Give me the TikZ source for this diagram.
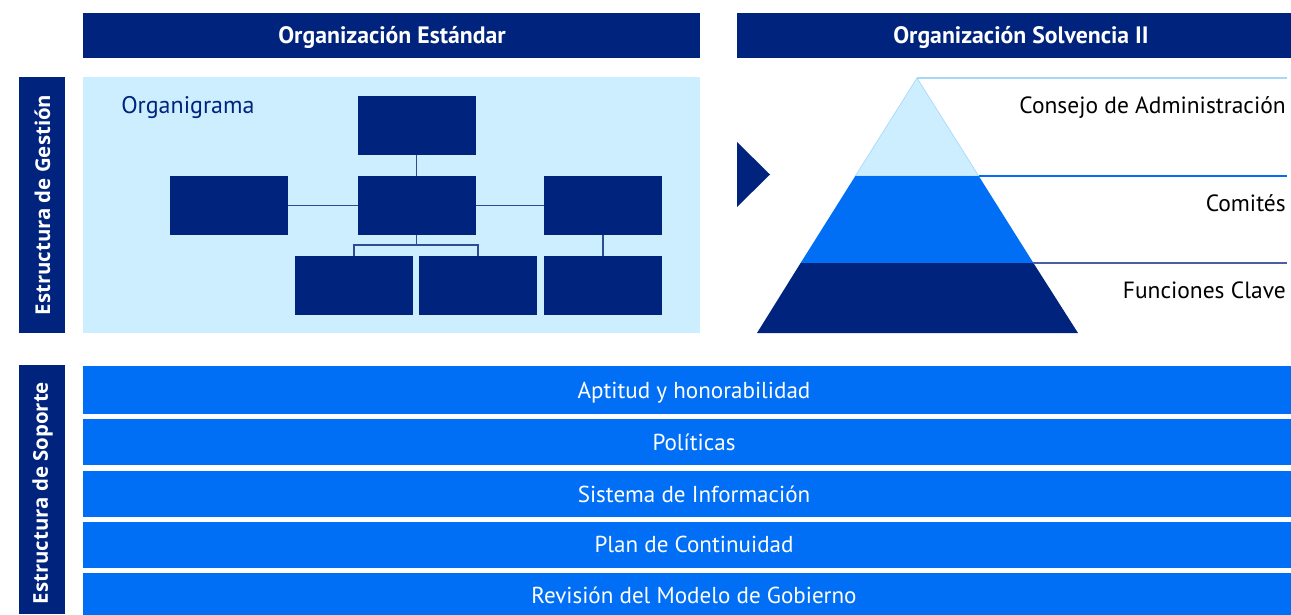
\documentclass[tikz,border=0pt]{standalone}
\usepackage{fontspec}
\setmainfont{PT Sans}
\newfontfamily\vfont{Open Sans}
\definecolor{navy}{HTML}{00247D}
\definecolor{bblue}{HTML}{006FF5}
\definecolor{lblue}{HTML}{CCEEFF}
\definecolor{linkc}{HTML}{2E4C96}
\definecolor{slate}{HTML}{4B5F9E}
\definecolor{pale}{HTML}{A8D8F8}
\begin{document}
\begin{tikzpicture}[x=0.75pt,y=-0.75pt,
  box/.style={fill=navy,inner sep=0pt,outer sep=0pt},
  orgbox/.style={box,minimum width=88.5pt,minimum height=44.25pt},
  hdr/.style={box,minimum height=33.75pt},
  side/.style={box,minimum width=34.5pt},
  bar/.style={fill=bblue,inner sep=0pt,outer sep=0pt,minimum width={1222*0.75pt}},
  hdrtxt/.style={anchor=base,text=white,font=\bfseries\fontsize{17.8}{20}\selectfont,inner sep=0pt},
  bartxt/.style={anchor=base,text=white,font=\fontsize{17.3}{20}\selectfont,inner sep=0pt},
  lbltxt/.style={anchor=base east,text=black,font=\fontsize{17.6}{20}\selectfont,inner sep=0pt},
  vtxt/.style={rotate=90,text=white,font=\vfont\bfseries\fontsize{15.3}{18}\selectfont,inner sep=0pt},
  link/.style={draw=linkc,line width=0.8pt}]
\clip (0,0) rectangle (1291,614);
\fill[white] (0,0) rectangle (1291,614);

% headers
\node[hdr,minimum width={617*0.75pt}] (h1) at (391.5,35.5) {};
\node[hdr,minimum width={568*0.75pt}] (h2) at (1021,35.5) {};
\node[hdrtxt] (h1t) at (392,43) {Organización Estándar};
\node[hdrtxt] (h2t) at (1021,43) {Organización Solvencia II};

% side labels
\node[side,minimum height={256*0.75pt}] (s1) at (42,205) {};
\node[side,minimum height={249*0.75pt}] (s2) at (42,489.5) {};
\node[vtxt] (s1t) at (42.5,205) {Estructura de Gestión};
\node[vtxt] (s2t) at (42.5,493) {Estructura de Soporte};

% organigrama panel
\node[fill=lblue,inner sep=0pt,minimum width={617*0.75pt},minimum height={256*0.75pt}] (panel) at (391.5,205) {};
\node[anchor=base west,text=navy,font=\fontsize{18}{20}\selectfont,inner sep=0pt] (orgt) at (121,113) {Organigrama};

\node[orgbox] (top) at (416.5,125.5) {};
\node[orgbox] (L) at (229,205.5) {};
\node[orgbox] (C) at (416.5,205.5) {};
\node[orgbox] (R) at (603,205.5) {};
\node[orgbox] (B1) at (354,285.5) {};
\node[orgbox] (B2) at (478,285.5) {};
\node[orgbox] (B3) at (603,285.5) {};
\coordinate (br) at (416.5,245);
\draw[link] (top.south) -- (C.north);
\draw[link] (L.east) -- (C.west);
\draw[link] (C.east) -- (R.west);
\draw[link] (C.south) -- (br);
\draw[link] (B1.north) |- (br) -| (B2.north);
\draw[link] (R.south) -- (B3.north);

% arrow
\fill[navy] (737,142) -- (770,174.5) -- (737,207) -- cycle;

% pyramid
\coordinate (apex) at (917,78);
\coordinate (l1) at (855.3,176); \coordinate (r1) at (978.7,176);
\coordinate (l2) at (800.6,263); \coordinate (r2) at (1033.4,263);
\coordinate (l3) at (757,333); \coordinate (r3) at (1078,333);
\filldraw[fill=lblue,draw=pale,line width=0.5pt] (apex) -- (r1) -- (l1) -- cycle;
\fill[bblue] (l1) -- (r1) -- (r2) -- (l2) -- cycle;
\fill[navy] (l2) -- (r2) -- (r3) -- (l3) -- cycle;
\coordinate (e0) at (1287,78);
\coordinate (e1) at (1287,176);
\coordinate (e2) at (1287,263);
\draw[pale,line width=0.8pt] (apex) -- (e0);
\draw[bblue,line width=0.8pt] (r1) -- (e1);
\draw[slate,line width=0.8pt] (r2) -- (e2);
\node[lbltxt] (p1) at (1286,113) {Consejo de Administración};
\node[lbltxt] (p2) at (1286,211) {Comités};
\node[lbltxt] (p3) at (1286,298) {Funciones Clave};

% support bars
\node[bar,minimum height={48*0.75pt}] (b1) at (694,389.5) {};
\node[bar,minimum height={46*0.75pt}] (b2) at (694,442) {};
\node[bar,minimum height={46*0.75pt}] (b3) at (694,494) {};
\node[bar,minimum height={46*0.75pt}] (b4) at (694,545) {};
\node[bar,minimum height={46*0.75pt}] (b5) at (694,596) {};
\node[bartxt] (b1t) at (694,398) {Aptitud y honorabilidad};
\node[bartxt] (b2t) at (694,450) {Políticas};
\node[bartxt] (b3t) at (694,502) {Sistema de Información};
\node[bartxt] (b4t) at (694,552) {Plan de Continuidad};
\node[bartxt] (b5t) at (694,603) {Revisión del Modelo de Gobierno};
\end{tikzpicture}
\end{document}
